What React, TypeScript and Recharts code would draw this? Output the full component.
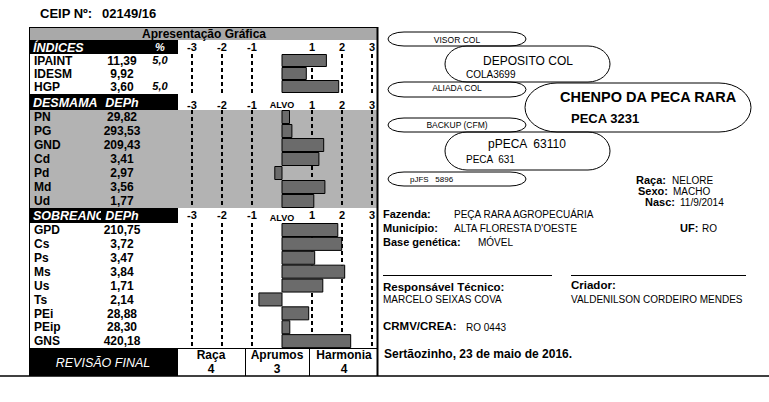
import React from 'react';
import { BarChart, Bar, XAxis, YAxis, ReferenceLine, CartesianGrid } from 'recharts';

const FONT = '"Liberation Sans", Arial, Helvetica, sans-serif';

// ---- data ----
const indicesNames = ['IPAINT', 'IDESM', 'HGP'];
const indicesDeph = ['11,39', '9,92', '3,60'];
const indicesPct = ['5,0', '', '5,0'];
const indicesBars = [1.48, 0.81, 1.89];

const desmamaNames = ['PN', 'PG', 'GND', 'Cd', 'Pd', 'Md', 'Ud'];
const desmamaDeph = ['29,82', '293,53', '209,43', '3,41', '2,97', '3,56', '1,77'];
const desmamaBars = [0.25, 0.33, 1.39, 1.23, -0.24, 1.43, 1.06];

const sobreanoNames = ['GPD', 'Cs', 'Ps', 'Ms', 'Us', 'Ts', 'PEi', 'PEip', 'GNS'];
const sobreanoDeph = ['210,75', '3,72', '3,47', '3,84', '1,71', '2,14', '28,88', '28,30', '420,18'];
const sobreanoBars = [1.86, 1.99, 1.09, 2.09, 1.36, -0.77, 0.89, 0.26, 2.29];

const scaleTicks = [-3, -2, -1, 1, 2, 3];
const revisaoLabels = ['Raça', 'Aprumos', 'Harmonia'];
const revisaoScores = ['4', '3', '4'];

type Row = { name: string; deph: string; pct: string; v: number };

function Section(props: {
  top: number; headerH: number; height: number; tickGap: number;
  names: string[]; deph: string[]; pct?: string[]; bars: number[]; alvo: boolean;
}) {
  const { top, headerH, height, tickGap, names, deph, pct, bars, alvo } = props;
  const data: Row[] = names.map((n, i) => ({ name: n, deph: deph[i], pct: pct ? pct[i] : '', v: bars[i] }));
  const YTick = (p: any) => {
    const d = data.find((r) => r.name === p.payload.value);
    if (!d) return null;
    return (
      <g>
        <text x={5} y={p.y} dy="0.36em" fontSize={12} fontWeight={700} fontFamily={FONT} fill="#000">{d.name}</text>
        <text x={93} y={p.y} dy="0.36em" textAnchor="middle" fontSize={12} fontWeight={700} fontFamily={FONT} fill="#000">{d.deph}</text>
        {d.pct ? (
          <text x={131} y={p.y} dy="0.36em" textAnchor="middle" fontSize={11} fontWeight={700} fontStyle="italic" fontFamily={FONT} fill="#000">{d.pct}</text>
        ) : null}
      </g>
    );
  };
  const XTick = (p: any) => (
    <text x={p.x} y={p.y} dy="0.1em" textAnchor="middle" fontSize={11} fontWeight={700} fontFamily={FONT} fill="#000">{p.payload.value}</text>
  );
  return (
    <div style={{ position: 'absolute', left: 29, top }}>
      <BarChart width={348} height={height} data={data} layout="vertical"
        margin={{ top: 0, right: 5, bottom: 0, left: 0 }} barCategoryGap={0.5}>
        <CartesianGrid horizontal={false} vertical={true} stroke="#000" strokeWidth={1.5} strokeDasharray="4 3"
          shapeRendering="crispEdges" />
        <XAxis type="number" orientation="top" domain={[-3, 3]} ticks={scaleTicks} height={headerH}
          axisLine={false} tickLine={false} tickSize={tickGap} tick={XTick} interval={0} />
        <YAxis type="category" dataKey="name" width={163} axisLine={false} tickLine={false}
          tick={YTick} interval={0} />
        <Bar dataKey="v" fill="#6b6b6b" stroke="#000" strokeWidth={1} isAnimationActive={false} />
        {alvo ? (
          <ReferenceLine x={0} stroke="none"
            label={{ value: 'ALVO', position: 'top', offset: 2, fill: '#000', fontSize: 9, fontWeight: 700, fontFamily: FONT }} />
        ) : null}
      </BarChart>
    </div>
  );
}

const T = (p: any) => {
  const { x, y, size = 10, bold = false, italic = false, anchor = 'start', fill = '#000', children } = p;
  return (
    <text x={x} y={y} dy="0.36em" fontSize={size} fontWeight={bold ? 700 : 400} fontStyle={italic ? 'italic' : 'normal'}
      textAnchor={anchor} fill={fill} fontFamily={FONT} style={{ whiteSpace: 'pre' }}>{children}</text>
  );
};

const Pill = (p: any) => (
  <rect x={p.x} y={p.y} width={p.w} height={p.h} rx={p.rx} ry={p.h / 2} fill="none" stroke="#000" strokeWidth={1} />
);

export default function App() {
  return (
    <div style={{ position: 'absolute', left: 0, top: 0, width: 769, height: 402, background: '#fff', overflow: 'hidden' }}>
      <div style={{ position: 'absolute', left: 29, top: 110, width: 348, height: 98, background: '#b3b3b3' }} />

      <Section top={40} headerH={14} height={53} tickGap={2} names={indicesNames} deph={indicesDeph} pct={indicesPct} bars={indicesBars} alvo={false} />
      <Section top={94} headerH={16} height={114} tickGap={0} names={desmamaNames} deph={desmamaDeph} bars={desmamaBars} alvo={true} />
      <Section top={208} headerH={15} height={140} tickGap={3} names={sobreanoNames} deph={sobreanoDeph} bars={sobreanoBars} alvo={true} />

      <svg width={769} height={402} style={{ position: 'absolute', left: 0, top: 0, pointerEvents: 'none' }}>
        <defs>
          <clipPath id="clipSob"><rect x={29} y={208} width={72} height={15} /></clipPath>
        </defs>
        <T x={40} y={13} size={13} bold>CEIP Nº:</T>
        <T x={102} y={13} size={13} bold>02149/16</T>
        <rect x={29} y={27} width={349} height={13} fill="#a9a9a9" />
        <T x={204} y={33.5} size={12} bold anchor="middle">Apresentação Gráfica</T>
        <rect x={29} y={40} width={149} height={14} fill="#000" />
        <T x={33} y={47} size={12.5} bold italic fill="#fff">ÍNDICES</T>
        <T x={160} y={47} size={11} bold italic fill="#fff" anchor="middle">%</T>
        <rect x={29} y={94} width={149} height={16} fill="#000" />
        <T x={33} y={102} size={12.5} bold italic fill="#fff">DESMAMA</T>
        <T x={122} y={102} size={12.5} bold italic fill="#fff" anchor="middle">DEPh</T>
        <rect x={29} y={208} width={149} height={15} fill="#000" />
        <g clipPath="url(#clipSob)">
          <T x={33} y={215.5} size={12.5} bold italic fill="#fff">SOBREANO</T>
        </g>
        <T x={122} y={215.5} size={12.5} bold italic fill="#fff" anchor="middle">DEPh</T>
        <rect x={29} y={348} width={149} height={28} fill="#000" />
        <T x={103} y={362} size={12.5} italic fill="#fff" anchor="middle">REVISÃO FINAL</T>
        <line x1={178} y1={348.5} x2={378} y2={348.5} stroke="#000" strokeWidth={1} />
        <line x1={245.5} y1={348} x2={245.5} y2={376} stroke="#000" strokeWidth={1} />
        <line x1={309.5} y1={348} x2={309.5} y2={376} stroke="#000" strokeWidth={1} />
        {revisaoLabels.map((l, i) => (
          <g key={l}>
            <T x={[211, 277, 344][i]} y={355} size={12} bold anchor="middle">{l}</T>
            <T x={[211, 277, 344][i]} y={369} size={12} bold anchor="middle">{revisaoScores[i]}</T>
          </g>
        ))}
        <line x1={29.5} y1={27} x2={29.5} y2={376} stroke="#000" strokeWidth={1} />
        <line x1={29} y1={27.5} x2={378} y2={27.5} stroke="#000" strokeWidth={1} />
        <line x1={377.5} y1={27} x2={377.5} y2={376} stroke="#000" strokeWidth={2} />
        <line x1={0} y1={376} x2={769} y2={376} stroke="#000" strokeWidth={1.5} />

        <Pill x={388} y={32} w={138} h={14} rx={16} />
        <T x={457} y={39.5} size={8.5} anchor="middle">VISOR COL</T>
        <Pill x={445} y={46} w={165} h={36} rx={22} />
        <T x={528} y={61} size={12} anchor="middle">DEPOSITO COL</T>
        <T x={466} y={74} size={10}>COLA3699</T>
        <Pill x={388} y={82} w={138} h={15} rx={16} />
        <T x={457} y={88} size={8.5} anchor="middle">ALIADA COL</T>
        <Pill x={525} y={83} w={226} h={49} rx={32} />
        <T x={560} y={97} size={14.5} bold>CHENPO DA PECA RARA</T>
        <T x={571} y={118} size={13} bold>PECA 3231</T>
        <Pill x={388} y={118} w={138} h={14} rx={16} />
        <T x={457} y={124.5} size={8.5} anchor="middle">BACKUP (CFM)</T>
        <Pill x={445} y={132} w={165} h={38} rx={22} />
        <T x={488} y={144} size={12}>pPECA  63110</T>
        <T x={466} y={159} size={10}>PECA  631</T>
        <Pill x={388} y={172} w={138} h={14} rx={16} />
        <T x={410} y={179.5} size={8}>pJFS   5896</T>
        <T x={636} y={180} size={11} bold>Raça:</T>
        <T x={672} y={180} size={10}>NELORE</T>
        <T x={638} y={191} size={11} bold>Sexo:</T>
        <T x={673} y={191} size={10}>MACHO</T>
        <T x={645} y={202} size={11} bold>Nasc:</T>
        <T x={680} y={202} size={10}>11/9/2014</T>
        <T x={383} y={214} size={11} bold>Fazenda:</T>
        <T x={454} y={214} size={10}>PEÇA RARA AGROPECUÁRIA</T>
        <T x={383} y={228} size={11} bold>Município:</T>
        <T x={454} y={228} size={10}>ALTA FLORESTA D'OESTE</T>
        <T x={680} y={228} size={11} bold>UF:</T>
        <T x={702} y={228} size={10}>RO</T>
        <T x={383} y={242} size={11} bold>Base genética:</T>
        <T x={478} y={242} size={10}>MÓVEL</T>
        <line x1={383} y1={275.5} x2={552} y2={275.5} stroke="#000" strokeWidth={1} />
        <line x1={571} y1={275.5} x2={746} y2={275.5} stroke="#000" strokeWidth={1} />
        <T x={383} y={287} size={11.5} bold>Responsável Técnico:</T>
        <T x={383} y={299} size={10}>MARCELO SEIXAS COVA</T>
        <T x={571} y={285} size={11.5} bold>Criador:</T>
        <T x={571} y={299} size={10}>VALDENILSON CORDEIRO MENDES</T>
        <T x={383} y={326} size={11.5} bold>CRMV/CREA:</T>
        <T x={466} y={327} size={10}>RO 0443</T>
        <T x={384} y={354} size={12} bold>Sertãozinho, 23 de maio de 2016.</T>
      </svg>
    </div>
  );
}
